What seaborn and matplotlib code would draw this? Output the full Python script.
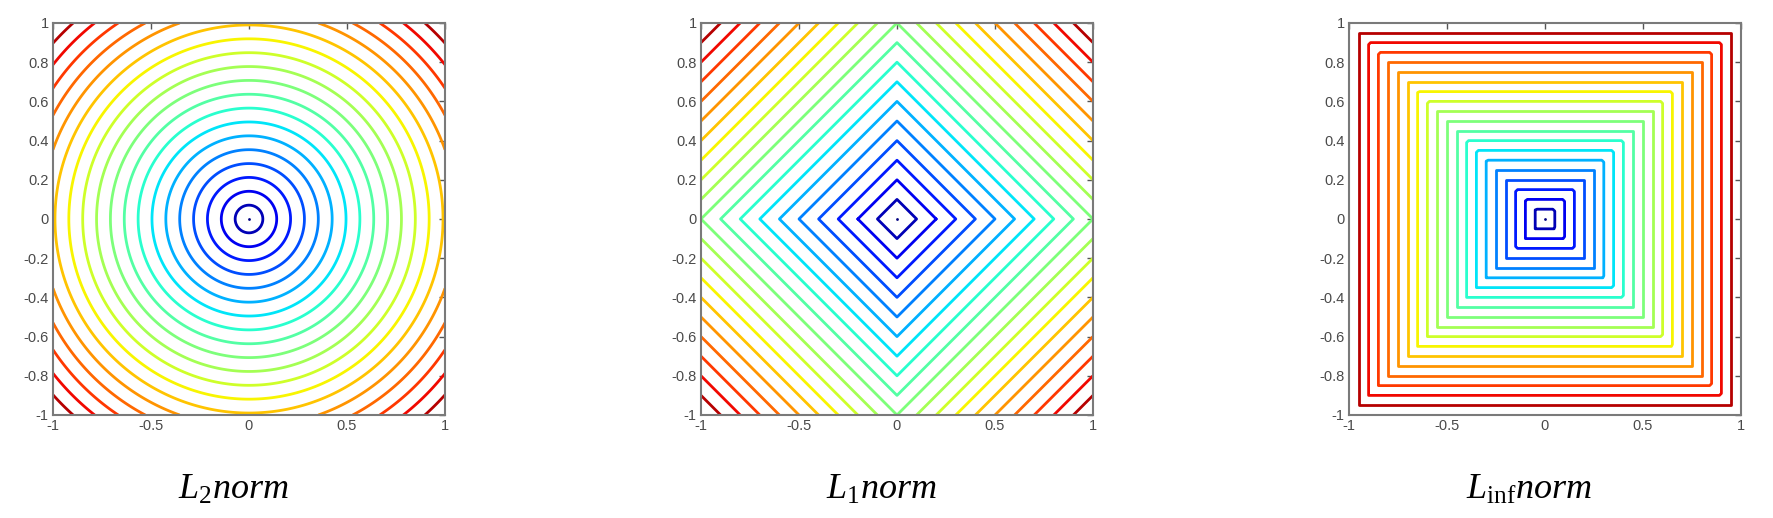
import numpy as np
import matplotlib
matplotlib.use('Agg')
import matplotlib.pyplot as plt
from matplotlib.ticker import FuncFormatter
import seaborn as sns

# contour levels (20 steps of each norm's max)
l2_levels = [0.0707, 0.1414, 0.2121, 0.2828, 0.3536, 0.4243, 0.4950, 0.5657, 0.6364, 0.7071,
             0.7778, 0.8485, 0.9192, 0.9899, 1.0607, 1.1314, 1.2021, 1.2728, 1.3435]
l1_levels = [0.1, 0.2, 0.3, 0.4, 0.5, 0.6, 0.7, 0.8, 0.9, 1.0,
             1.1, 1.2, 1.3, 1.4, 1.5, 1.6, 1.7, 1.8, 1.9]
linf_levels = [0.05, 0.10, 0.15, 0.20, 0.25, 0.30, 0.35, 0.40, 0.45, 0.50,
               0.55, 0.60, 0.65, 0.70, 0.75, 0.80, 0.85, 0.90, 0.95]
norm_max = [1.4142, 2.0, 1.0]
titles = [r'$L_{\mathrm{2}}norm$', r'$L_{\mathrm{1}}norm$', r'$L_{\mathrm{inf}}norm$']
xticks = [-1, -0.5, 0, 0.5, 1]
yticks = [-1, -0.8, -0.6, -0.4, -0.2, 0, 0.2, 0.4, 0.6, 0.8, 1]

sns.set_theme(style='white')
plt.rcParams['font.family'] = ['Liberation Sans', 'DejaVu Sans']
plt.rcParams['mathtext.fontset'] = 'custom'
plt.rcParams['mathtext.rm'] = 'Liberation Serif'
plt.rcParams['mathtext.it'] = 'Liberation Serif:italic'

g = np.linspace(-1, 1, 201)
X, Y = np.meshgrid(g, g)
fields = [np.sqrt(X ** 2 + Y ** 2), np.abs(X) + np.abs(Y), np.maximum(np.abs(X), np.abs(Y))]
all_levels = [l2_levels, l1_levels, linf_levels]

fig = plt.figure(figsize=(17.74, 5.18), dpi=100)
lefts = [53, 701, 1349]
jet = plt.get_cmap('jet')
for i in range(3):
    ax = fig.add_axes([lefts[i] / 1774, 103 / 518, 392 / 1774, 392 / 518])
    lv = all_levels[i]
    cols = [jet(v / norm_max[i]) for v in lv]
    cs = ax.contour(X, Y, fields[i], levels=lv, colors=cols, linewidths=2.0)
    cs.set_joinstyle('round')
    # centre point (zero level)
    k = np.unravel_index(np.argmin(fields[i]), fields[i].shape)
    sns.scatterplot(x=[X[k]], y=[Y[k]], ax=ax, s=4, color=jet(0.0), linewidth=0, legend=False)
    ax.set_xlim(-1, 1)
    ax.set_ylim(-1, 1)
    ax.set_xticks(xticks)
    ax.set_yticks(yticks)
    ax.xaxis.set_major_formatter(FuncFormatter(lambda v, p: '%g' % v))
    ax.yaxis.set_major_formatter(FuncFormatter(lambda v, p: '%g' % v))
    ax.tick_params(direction='in', top=True, right=True, length=4, width=1,
                   color='#555555', labelcolor='#4a4a4a', labelsize=10.5, pad=3)
    for s in ax.spines.values():
        s.set_color('#7a7a7a')
        s.set_linewidth(1.5)
    ax.set_xlabel('')
    ax.set_ylabel('')
    cx = (lefts[i] + 196 - 16) / 1774
    fig.text(cx, 19 / 518, titles[i], ha='center', va='baseline', fontsize=26, color='black')

plt.savefig('out.png', dpi=100)
